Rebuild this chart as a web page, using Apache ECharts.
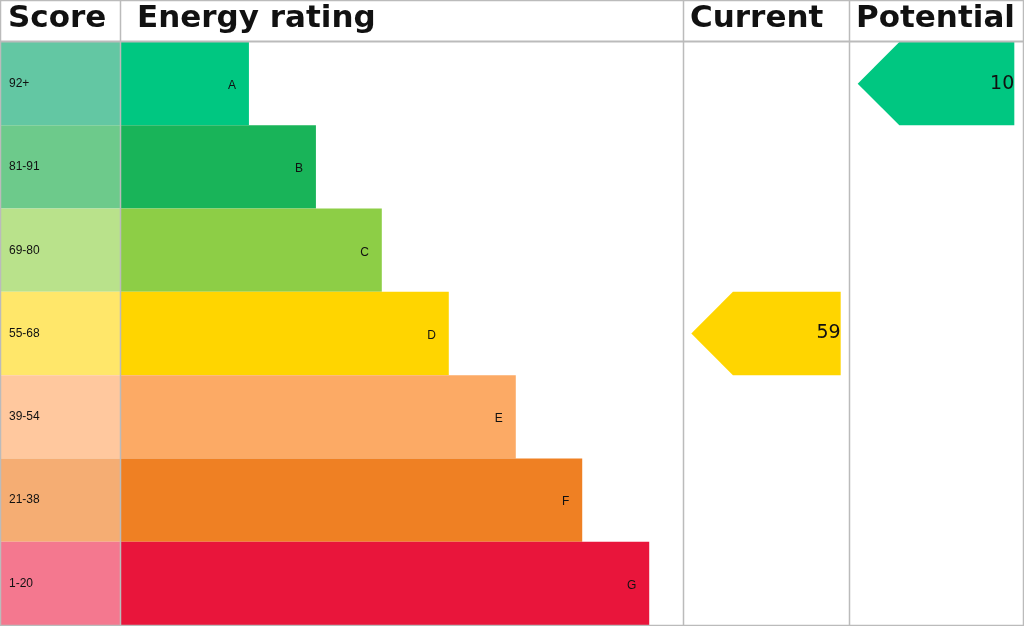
<!DOCTYPE html><html><head><meta charset="utf-8"><script src="https://cdn.jsdelivr.net/npm/echarts@6/dist/echarts.min.js"></script>
<style>html,body{margin:0;padding:0;background:#fff}#c{width:1024px;height:626px}</style></head><body><div id="c"></div><script>
const bands=['A','B','C','D','E','F','G'];
const scores=['92+','81-91','69-80','55-68','39-54','21-38','1-20'];
const barLengths=[22.9,34.8,46.5,58.4,70.3,82.1,94.0];
const bandColors=['#00c781','#19b459','#8dce46','#ffd500','#fcaa65','#ef8023','#e9153b'];
const scoreColors=['#63c7a3','#6dca8b','#b9e28b','#ffe76a','#ffc89e','#f5ad73','#f4788f'];
const headers=['Score','Energy rating','Current','Potential'];
const currentValue=59, currentBand=3, currentText='59';
const potentialValue=100, potentialBand=0, potentialText='10';
const F='DejaVu Sans';
const ch=echarts.init(document.getElementById('c'));
const T=42,B=1;
const grids=[{left:0,width:120},{left:120,width:563},{left:683,width:166},{left:849,width:174}].map(g=>({...g,top:T,bottom:B}));
const xAxes=grids.map((g,i)=>({gridIndex:i,type:'value',min:0,max:i==1?100:1,show:false}));
const yAxes=grids.map((g,i)=>({gridIndex:i,type:'category',data:bands,inverse:true,show:false}));
function arrow(color){return function(p,api){const c=api.coord([0,api.value(0)]);const s=api.size([1,1]);const x0=c[0]+s[0]*0.05,x1=c[0]+s[0]*0.95,h=s[1],y0=c[1]-h/2;const tip=h*0.5;
return{type:'group',children:[{type:'polygon',shape:{points:[[x0,c[1]],[x0+tip,y0],[x1,y0],[x1,y0+h],[x0+tip,y0+h]]},style:{fill:color}},
{type:'text',style:{text:api.value(2),x:x1,y:c[1],align:'right',verticalAlign:'middle',font:'19px "'+F+'"',fill:'#111'}}]};};}
ch.setOption({animation:false,grid:grids,xAxis:xAxes,yAxis:yAxes,series:[
{type:'bar',xAxisIndex:0,yAxisIndex:0,barCategoryGap:0,data:scores.map((s,i)=>({value:1,name:s,itemStyle:{color:scoreColors[i]}})),
label:{show:true,position:'insideLeft',offset:[4,0],formatter:p=>scores[p.dataIndex],font:'bold 30px "'+F+'"',color:'#111'}},
{type:'bar',xAxisIndex:1,yAxisIndex:1,barCategoryGap:0,data:barLengths.map((v,i)=>({value:v,itemStyle:{color:bandColors[i]}})),
label:{show:true,position:'insideRight',offset:[-8,2],formatter:p=>bands[p.dataIndex],font:'bold 66px "'+F+'"',color:'#111'}},
{type:'custom',xAxisIndex:2,yAxisIndex:2,renderItem:arrow(bandColors[currentBand]),data:[[currentBand,currentValue,currentText]]},
{type:'custom',xAxisIndex:3,yAxisIndex:3,renderItem:arrow(bandColors[potentialBand]),data:[[potentialBand,potentialValue,potentialText]]}
],
graphic:[
...[0,120,683,849].map((x,i)=>({type:'text',x:x+(i==0?8:(i==1?17:7)),y:19,style:{text:headers[i],font:'bold 31px "'+F+'"',fill:'#111',verticalAlign:'middle'}})),
...[120,683,849].map(x=>({type:'line',shape:{x1:x+0.5,y1:0,x2:x+0.5,y2:626},style:{stroke:'#bbb',lineWidth:1.5},z:100})),
{type:'line',shape:{x1:0,y1:41.5,x2:1024,y2:41.5},style:{stroke:'#bbb',lineWidth:2},z:100},
{type:'rect',shape:{x:0.5,y:0.5,width:1023,height:625},style:{fill:'none',stroke:'#bbb',lineWidth:1.5},z:100}
]});
</script></body></html>
